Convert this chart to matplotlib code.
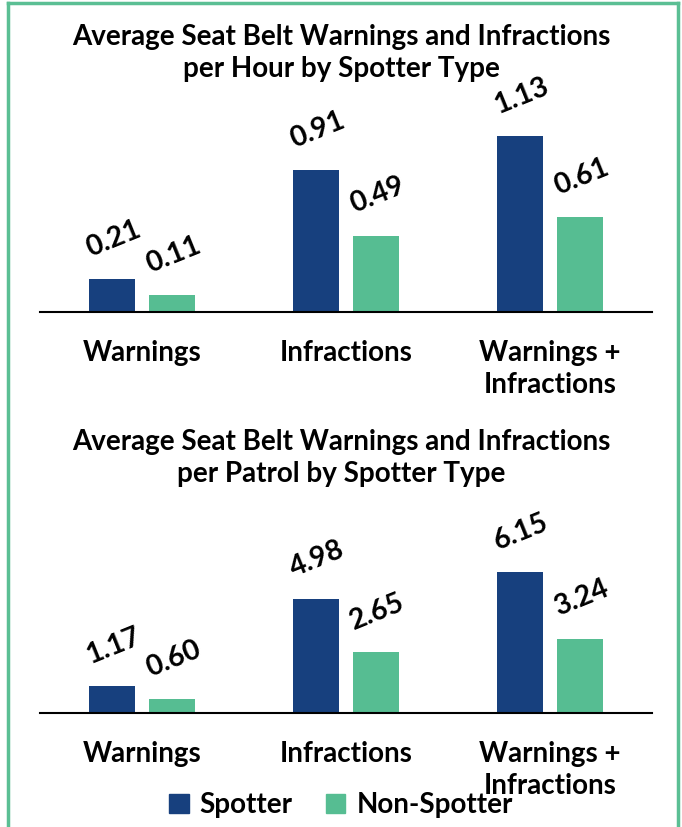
import numpy as np
import matplotlib.pyplot as plt
from matplotlib.lines import Line2D
from matplotlib.patches import Patch

plt.rcParams['font.family'] = ['Lato', 'DejaVu Sans']
plt.rcParams['font.weight'] = 'bold'

categories = ['Warnings', 'Infractions', 'Warnings +\nInfractions']
hour_spotter = [0.21, 0.91, 1.13]
hour_non = [0.11, 0.49, 0.61]
patrol_spotter = [1.17, 4.98, 6.15]
patrol_non = [0.60, 2.65, 3.24]

c_spot = '#17407E'
c_non = '#56BD92'
border = '#5BBF94'

fig = plt.figure(figsize=(6.82, 8.27), dpi=100)
W, H = 682, 827


def draw(rect, spot, non, ymax, title, title_y):
    ax = fig.add_axes(rect)
    x = np.arange(len(categories))
    w = 0.225
    off = 0.147
    ax.bar(x - off, spot, w, color=c_spot)
    ax.bar(x + off, non, w, color=c_non)
    for xs, vals in ((x - off, spot), (x + off, non)):
        for xi, v in zip(xs, vals):
            ax.annotate(f'{v:.2f}', (xi, v), xytext=(1, 29), textcoords='offset points',
                        ha='center', va='center', rotation=22, fontsize=20.5,
                        fontweight='bold')
    ax.set_xlim(-0.5, 2.5)
    ax.set_ylim(0, ymax)
    ax.set_yticks([])
    ax.set_xticks(x)
    ax.set_xticklabels(categories, fontsize=20, fontweight='bold', linespacing=1.3)
    ax.tick_params(axis='x', length=0, pad=20)
    for s in ('top', 'right', 'left'):
        ax.spines[s].set_visible(False)
    ax.spines['bottom'].set_linewidth(1.5)
    fig.text(0.5, title_y, title, ha='center', va='center', fontsize=20,
             fontweight='bold', linespacing=1.3)
    return ax


draw([40 / W, 1 - 312 / H, 612 / W, 200 / H], hour_spotter, hour_non, 200 / 155.8,
     'Average Seat Belt Warnings and Infractions\nper Hour by Spotter Type', 1 - 53 / H)
draw([40 / W, 1 - 713 / H, 612 / W, 200 / H], patrol_spotter, patrol_non, 200 / 22.93,
     'Average Seat Belt Warnings and Infractions\nper Patrol by Spotter Type', 1 - 458 / H)

handles = [Patch(color=c_spot, label='Spotter'), Patch(color=c_non, label='Non-Spotter')]
fig.legend(handles=handles, loc='center', bbox_to_anchor=(0.5, 1 - 805 / H), ncol=2,
           frameon=False, prop={'size': 20, 'weight': 'bold'}, handlelength=0.7,
           handleheight=0.7, handletextpad=0.4, columnspacing=1.2)

# green frame
fig.add_artist(Line2D([8 / W, 8 / W], [0, 1 - 3 / H], color=border, lw=2.5))
fig.add_artist(Line2D([8 / W, 678 / W], [1 - 3 / H, 1 - 3 / H], color=border, lw=2.5))
fig.add_artist(Line2D([678 / W, 678 / W], [0, 1 - 3 / H], color=border, lw=2.5))

fig.savefig('out.png', dpi=100)
